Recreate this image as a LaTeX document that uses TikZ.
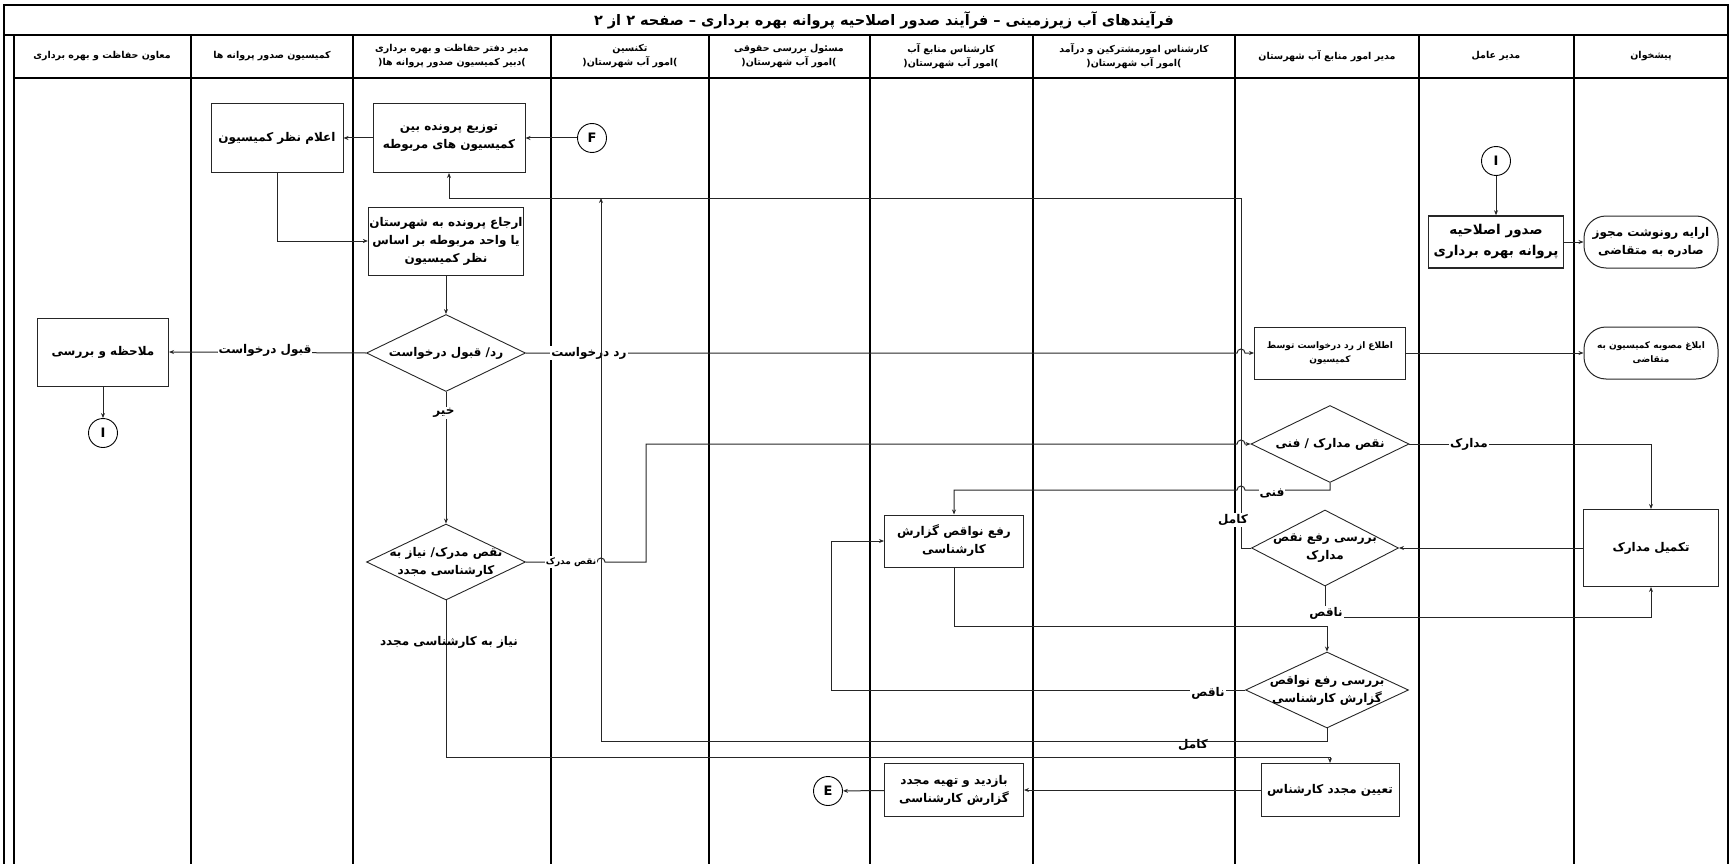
\documentclass[tikz,border=0pt]{standalone}
\usepackage{fontspec}
\usepackage{xcolor}
\usetikzlibrary{arrows.meta,shapes.geometric}
\TeXXeTstate=1
\newfontfamily\farsi[Script=Arabic]{DejaVu Sans}
\newcommand{\fa}[1]{\beginR #1\endR}
\newcommand{\ttlfont}{\farsi\bfseries\fontsize{14.5}{18}\selectfont}
\newcommand{\hdfont}{\farsi\bfseries\fontsize{9.5}{14}\selectfont}
\newcommand{\bxfont}{\farsi\bfseries\fontsize{12}{18}\selectfont}
\newcommand{\smfont}{\farsi\bfseries\fontsize{9}{14}\selectfont}
\definecolor{wire}{HTML}{262626}

\tikzset{
  lane/.style={line width=1.2pt, black},
  flow/.style={draw=wire, line width=1pt, -{Stealth[length=5pt,width=4pt]}},
  task/.style={draw=black!85, line width=1pt, align=center, inner sep=1pt, font=\bxfont},
  terminal/.style={task, rounded corners=22pt},
  decision/.style={draw=black!85, line width=0.9pt, diamond, inner sep=0pt},
  dtext/.style={align=center, inner sep=0pt, font=\bxfont},
  conn/.style={draw, circle, line width=0.9pt, minimum size=29pt, inner sep=0pt, font=\farsi\bfseries\fontsize{13}{13}\selectfont},
  lbl/.style={fill=white, inner sep=1pt, font=\bxfont},
  head/.style={align=center, font=\hdfont}
}

\begin{document}
\begin{tikzpicture}[x=1pt,y=-1pt]
  \useasboundingbox (0,0) rectangle (1732,864);

  % frame and lanes
  \draw[lane] (4,864) -- (4,5) -- (1728,5) -- (1728,864);
  \draw[lane] (4,35) -- (1728,35);
  \draw[lane] (14,864) -- (14,35);
  \draw[lane] (14,78) -- (1728,78);
  \foreach \x in {191,353,551,709,870,1033,1235,1419,1574}
    \draw[lane] (\x,35) -- (\x,864);

  \node[font=\ttlfont] (title) at (884,20) {\fa{فرآیندهای آب زیرزمینی – فرآیند صدور اصلاحیه پروانه بهره برداری – صفحه ۲ از ۲}};

  \node[head] (h1) at (102,56) {\fa{معاون حفاظت و بهره برداری}};
  \node[head] (h2) at (272,56) {\fa{کمیسیون صدور پروانه ها}};
  \node[head] (h3) at (452,56) {\fa{مدیر دفتر حفاظت و بهره برداری}\\(\fa{دبیر کمیسیون صدور پروانه ها})};
  \node[head] (h4) at (630,56) {\fa{تکنسین}\\(\fa{امور آب شهرستان})};
  \node[head] (h5) at (789,56) {\fa{مسئول بررسی حقوقی}\\(\fa{امور آب شهرستان})};
  \node[head] (h6) at (951,56) {\fa{کارشناس منابع آب}\\(\fa{امور آب شهرستان})};
  \node[head] (h7) at (1134,56) {\fa{کارشناس امورمشترکین و درآمد}\\(\fa{امور آب شهرستان})};
  \node[head] (h8) at (1327,56) {\fa{مدیر امور منابع آب شهرستان}};
  \node[head] (h9) at (1496,56) {\fa{مدیر عامل}};
  \node[head] (h10) at (1651,56) {\fa{پیشخوان}};

  % steps
  \node[conn] (cF) at (592,138) {F};
  \node[task, minimum width=152pt, minimum height=69pt] (dist) at (449,138) {\fa{توزیع پرونده بین}\\\fa{کمیسیون های مربوطه}};
  \node[task, minimum width=132pt, minimum height=69pt] (anno) at (277,138) {\fa{اعلام نظر کمیسیون}};
  \node[task, minimum width=152pt, minimum height=68pt] (refr) at (446,241) {\fa{ارجاع پرونده به شهرستان}\\\fa{یا واحد مربوطه بر اساس}\\\fa{نظر کمیسیون}};
  \node[decision, minimum width=159pt, minimum height=77pt] (chkA) at (446,353) {};
  \node[dtext] (chkAt) at (chkA) {\fa{رد\kern0pt/ قبول درخواست}};
  \node[task, minimum width=131pt, minimum height=68pt] (note) at (103,352) {\fa{ملاحظه و بررسی}};
  \node[conn] (cI1) at (103,433) {I};
  \node[decision, minimum width=159pt, minimum height=76pt] (chkB) at (446,562) {};
  \node[dtext] (chkBt) at (chkB) {\fa{نقص مدرک\kern0pt/ نیاز به}\\\fa{کارشناسی مجدد}};

  \node[conn] (cI2) at (1496,161) {I};
  \node[task, line width=1.6pt, minimum width=135pt, minimum height=52pt, font=\farsi\bfseries\fontsize{13.5}{21}\selectfont] (issue) at (1496,242) {\fa{صدور اصلاحیه}\\\fa{پروانه بهره برداری}};
  \node[terminal, minimum width=134pt, minimum height=52pt] (copy) at (1651,242) {\fa{ارایه رونوشت مجوز}\\\fa{صادره به متقاضی}};
  \node[task, minimum width=151pt, minimum height=52pt, font=\smfont] (info) at (1330,353) {\fa{اطلاع از رد درخواست توسط}\\\fa{کمیسیون}};
  \node[terminal, minimum width=134pt, minimum height=52pt, font=\smfont] (notify) at (1651,353) {\fa{ابلاغ مصوبه کمیسیون به}\\\fa{متقاضی}};

  \node[decision, minimum width=158pt, minimum height=77pt] (chkC) at (1330,444) {};
  \node[dtext] (chkCt) at (chkC) {\fa{نقص مدارک / فنی}};
  \node[task, minimum width=135pt, minimum height=77pt] (compl) at (1651,548) {\fa{تکمیل مدارک}};
  \node[decision, minimum width=147pt, minimum height=76pt] (chkD) at (1325,548) {};
  \node[dtext] (chkDt) at (chkD) {\fa{بررسی رفع نقص}\\\fa{مدارک}};
  \node[task, minimum width=139pt, minimum height=52pt] (fix) at (954,541) {\fa{رفع نواقص گزارش}\\\fa{کارشناسی}};
  \node[decision, minimum width=163pt, minimum height=76pt] (chkE) at (1327,690) {};
  \node[dtext] (chkEt) at (chkE) {\fa{بررسی رفع نواقص}\\\fa{گزارش کارشناسی}};
  \node[task, minimum width=138pt, minimum height=53pt] (assign) at (1330,790) {\fa{تعیین مجدد کارشناس}};
  \node[task, minimum width=139pt, minimum height=53pt] (visit) at (954,790) {\fa{بازدید و تهیه مجدد}\\\fa{گزارش کارشناسی}};
  \node[conn] (cE) at (828,791) {E};

  \coordinate (joinT) at (601,198);

  % connectors
  \draw[flow] (cF) -- (dist);
  \draw[flow] (dist) -- (anno);
  \draw[flow] (anno.south) |- (refr.west);
  \draw[flow] (refr) -- (chkA);
  \draw[flow] (chkA.west) -- (note.east);
  \draw[flow] (note) -- (cI1);
  \draw[flow] (chkA.east) -- (1237,353) arc[start angle=180, end angle=360, radius=4] -- (info.west);
  \draw[flow] (chkA.south) -- (chkB.north);
  \draw[flow] (chkB.south) |- (1330,757) -- (assign.north);
  \draw[flow] (chkB.east) -- (597,562) arc[start angle=180, end angle=360, radius=4] -- (646,562)
    |- (1237,444) arc[start angle=180, end angle=360, radius=4] -- (chkC.west);
  \draw[flow] (chkC.east) -| (compl.north);
  \draw[flow] (chkC.south) |- (1245,490) arc[start angle=0, end angle=-180, radius=4] -| (fix.north);
  \draw[flow] (compl.west) -- (chkD.east);
  \draw[flow] (chkD.west) -| (1241,198) -| (dist.south);
  \draw[flow] (chkD.south) -- (1325,617) -| (compl.south);
  \draw[flow] (fix.south) -- (954,626) -| (chkE.north);
  \draw[flow] (chkE.west) -| (831,541) -- (fix.west);
  \draw[flow] (cI2) -- (issue);
  \draw[flow] (issue) -- (copy);
  \draw[flow] (info) -- (notify);
  \draw[flow] (assign) -- (visit);
  \draw[flow] (visit) -- (cE);

  % branch labels
  \node[lbl] (lAccept) at (265,350) {\fa{قبول درخواست}};
  \node[lbl] (lReject) at (589,353) {\fa{رد درخواست}};
  \node[lbl] (lNo) at (444,413) {\fa{خیر}};
  \node[inner sep=1pt, font=\bxfont] (lRedo) at (449,642) {\fa{نیاز به کارشناسی مجدد}};
  \node[lbl, font=\smfont] (lLack) at (571,562) {\fa{نقص مدرک}};
  \node[lbl] (lDocs) at (1469,444) {\fa{مدارک}};
  \node[lbl] (lTech) at (1272,493) {\fa{فنی}};
  \node[lbl] (lFullA) at (1233,520) {\fa{کامل}};
  \node[lbl] (lPartA) at (1326,613) {\fa{ناقص}};
  \node[lbl] (lPartB) at (1208,693) {\fa{ناقص}};
  \node[lbl] (lFullB) at (1193,745) {\fa{کامل}};

  \draw[flow] (chkE.south) |- (601,741) -- (joinT);
\end{tikzpicture}
\end{document}
